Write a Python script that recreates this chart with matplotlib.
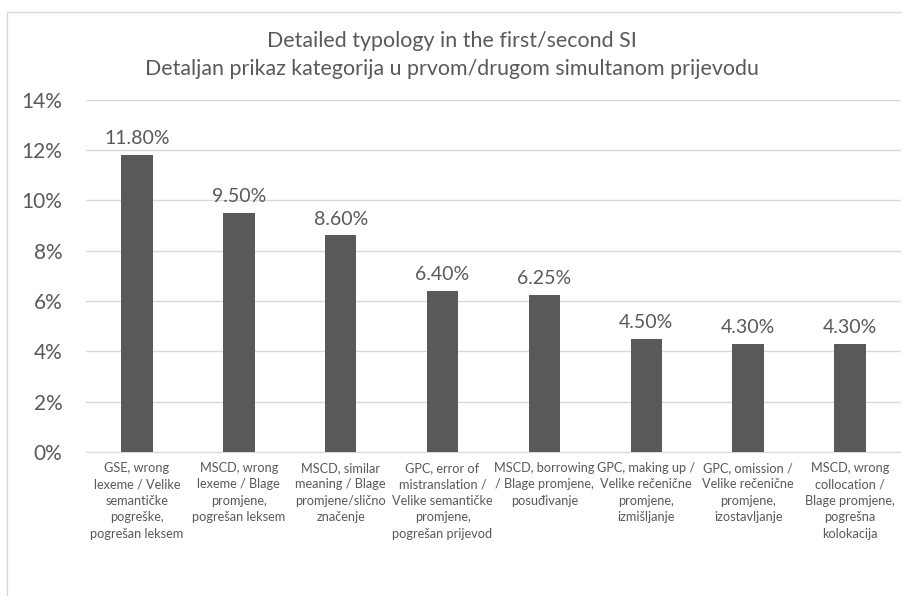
import matplotlib.pyplot as plt
from matplotlib.patches import Rectangle
from matplotlib.ticker import FuncFormatter

# data
categories = [
    'GSE, wrong\nlexeme / Velike\nsemantičke\npogreške,\npogrešan leksem',
    'MSCD, wrong\nlexeme / Blage\npromjene,\npogrešan leksem',
    'MSCD, similar\nmeaning / Blage\npromjene/slično\nznačenje',
    'GPC, error of\nmistranslation /\nVelike semantičke\npromjene,\npogrešan prijevod',
    'MSCD, borrowing\n/ Blage promjene,\nposuđivanje',
    'GPC, making up /\nVelike rečenične\npromjene,\nizmišljanje',
    'GPC, omission /\nVelike rečenične\npromjene,\nizostavljanje',
    'MSCD, wrong\ncollocation /\nBlage promjene,\npogrešna\nkolokacija',
]
values = [11.80, 9.50, 8.60, 6.40, 6.25, 4.50, 4.30, 4.30]
value_labels = ['11.80%', '9.50%', '8.60%', '6.40%', '6.25%', '4.50%', '4.30%', '4.30%']
yticks = [0, 2, 4, 6, 8, 10, 12, 14]

title = 'Detailed typology in the first/second SI\nDetaljan prikaz kategorija u prvom/drugom simultanom prijevodu'

text_color = '#595959'
bar_color = '#595959'
grid_color = '#d9d9d9'
plt.rcParams['font.family'] = ['Lato', 'DejaVu Sans']

fig = plt.figure(figsize=(9.03, 5.96), dpi=100)
# outer chart frame
fig.patches.append(Rectangle((7 / 903, -0.1), 1.1, 1 - 12 / 596 + 0.1,
                             transform=fig.transFigure, fill=False,
                             edgecolor='#d9d9d9', lw=1.0))

ax = fig.add_axes([86 / 903, 1 - 452 / 596, (901 - 86) / 903, (452 - 99.5) / 596])

x = range(len(values))
ax.bar(x, values, width=0.31, color=bar_color, zorder=3)

for i, v in enumerate(values):
    ax.text(i, v + 0.3, value_labels[i], ha='center', va='bottom',
            fontsize=14, color=text_color)

ax.set_xlim(-0.5, len(values) - 0.5)
ax.set_ylim(0, 14)
ax.set_yticks(yticks)
ax.yaxis.set_major_formatter(FuncFormatter(lambda v, p: f'{v:.0f}%'))
ax.grid(axis='y', color=grid_color, lw=1.0, zorder=0)
ax.set_xticks(list(x))
ax.set_xticklabels(categories, fontsize=9.2, color=text_color, linespacing=1.45)
ax.tick_params(axis='y', labelsize=15, labelcolor=text_color, length=0, pad=17)
ax.tick_params(axis='x', length=0, pad=7)
for s in ['top', 'right', 'left']:
    ax.spines[s].set_visible(False)
ax.spines['bottom'].set_color(grid_color)

fig.text(0.5, 1 - 55 / 596, title, ha='center', va='center', fontsize=15.4,
         color=text_color, linespacing=1.5)

fig.savefig('out.png', dpi=100)
